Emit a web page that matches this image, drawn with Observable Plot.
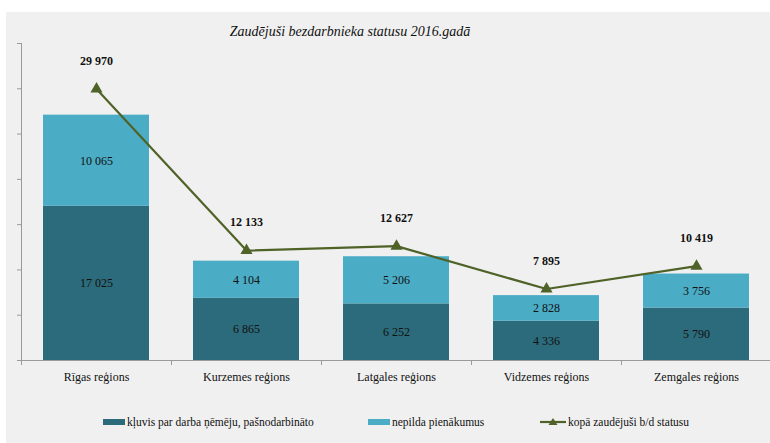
<!DOCTYPE html>
<html>
<head>
<meta charset="utf-8">
<script src="https://cdn.jsdelivr.net/npm/d3@7"></script>
<script src="https://cdn.jsdelivr.net/npm/@observablehq/plot@0.6"></script>
<style>
  html, body { margin: 0; padding: 0; background: #ffffff; }
  #wrap { position: relative; width: 770px; height: 443px; overflow: hidden; }
  #panel { position: absolute; left: 6px; top: 12px; width: 764px; height: 431px; background: #f0f0f0; }
  #title { position: absolute; left: 0; width: 700px; top: 24px; text-align: center; font-family: 'Liberation Serif', 'Times New Roman', 'DejaVu Serif', serif; font-style: italic; font-size: 14px; color: #111; }
  #chart { position: absolute; left: 0; top: 0; }
  #legend { position: absolute; left: 0; top: 416px; width: 770px; font-family: 'Liberation Serif', 'Times New Roman', 'DejaVu Serif', serif; font-size: 11.5px; color: #111; }
  .item { position: absolute; top: 0; display: flex; align-items: center; white-space: nowrap; }
  .sw { display: inline-block; width: 22px; height: 6px; margin-right: 2px; }
  svg.ln { margin-right: 2px; }
  #chart svg text { font-family: 'Liberation Serif', 'Times New Roman', 'DejaVu Serif', serif; }
</style>
</head>
<body>
<div id="wrap">
  <div id="panel"></div>
  <div id="title"></div>
  <div id="chart"></div>
  <div id="legend"></div>
</div>
<script>
const titleText = "Zaudējuši bezdarbnieka statusu 2016.gadā";
const regions = ["Rīgas reģions", "Kurzemes reģions", "Latgales reģions", "Vidzemes reģions", "Zemgales reģions"];
const seriesNames = ["kļuvis par darba ņēmēju, pašnodarbināto", "nepilda pienākumus", "kopā zaudējuši b/d statusu"];
const employed = [17025, 6865, 6252, 4336, 5790];
const notFulfilling = [10065, 4104, 5206, 2828, 3756];
const totals = [29970, 12133, 12627, 7895, 10419];
const yTicks = [0, 5000, 10000, 15000, 20000, 25000, 30000, 35000];

const colors = ["#2c6b7b", "#4bacc6", "#4f6228"];
const fmt = v => d3.format(",")(v).replace(/,/g, " ");

const stackData = [];
regions.forEach((r, i) => stackData.push({region: r, series: seriesNames[0], value: employed[i]}));
regions.forEach((r, i) => stackData.push({region: r, series: seriesNames[1], value: notFulfilling[i]}));
const lineData = regions.map((r, i) => ({region: r, value: totals[i]}));
const lastRegion = [regions[regions.length - 1]];

const step = 150;
const serif = "'Liberation Serif', 'Times New Roman', serif";

const chart = Plot.plot({
  width: 770,
  height: 443,
  marginLeft: 21,
  marginRight: -1,
  marginTop: 43,
  marginBottom: 83,
  style: {background: "transparent", fontFamily: serif, fontSize: "12px", color: "#111"},
  x: {domain: regions, paddingInner: 0.293, paddingOuter: 0.1465, label: null},
  y: {domain: [0, 35000], label: null},
  color: {domain: seriesNames.slice(0, 2), range: colors.slice(0, 2)},
  marks: [
    Plot.barY(stackData, {x: "region", y: "value", fill: "series"}),
    Plot.text(stackData, Plot.stackY({x: "region", y: "value", text: d => fmt(d.value), fill: "#111", fontSize: 12})),
    Plot.ruleY([0], {stroke: "#9a9a9a", strokeWidth: 1}),
    Plot.ruleX(regions, {x: d => d, y1: 0, y2: 0, insetBottom: -5, dx: -step / 2, stroke: "#9a9a9a"}),
    Plot.ruleX(lastRegion, {x: d => d, y1: 0, y2: 0, insetBottom: -5, dx: step / 2, stroke: "#9a9a9a"}),
    Plot.frame({anchor: "left", stroke: "#9a9a9a"}),
    Plot.axisY({ticks: yTicks, tickSize: 4, tickFormat: () => "", stroke: "#9a9a9a", label: null}),
    Plot.axisX({tickSize: 0, tickPadding: 12, fontSize: 12, label: null, fill: "#111"}),
    Plot.line(lineData, {x: "region", y: "value", stroke: colors[2], strokeWidth: 2.2}),
    Plot.dot(lineData, {x: "region", y: "value", symbol: "triangle", fill: colors[2], r: 4.5}),
    Plot.text(lineData, {x: "region", y: "value", text: d => fmt(d.value), dy: -28, fontWeight: "bold", fontSize: 12, fill: "#111"})
  ]
});
document.getElementById("chart").appendChild(chart);
document.getElementById("title").textContent = titleText;

const legend = document.getElementById("legend");
const legendX = [103, 368, 540];
seriesNames.forEach((name, i) => {
  const item = document.createElement("div");
  item.className = "item";
  item.style.left = legendX[i] + "px";
  if (i < 2) {
    const sw = document.createElement("span");
    sw.className = "sw";
    sw.style.background = colors[i];
    item.appendChild(sw);
  } else {
    const ns = "http://www.w3.org/2000/svg";
    const s = document.createElementNS(ns, "svg");
    s.setAttribute("width", 26); s.setAttribute("height", 10); s.setAttribute("class", "ln");
    const l = document.createElementNS(ns, "line");
    l.setAttribute("x1", 0); l.setAttribute("x2", 26); l.setAttribute("y1", 5); l.setAttribute("y2", 5);
    l.setAttribute("stroke", colors[2]); l.setAttribute("stroke-width", 2.2);
    const t = document.createElementNS(ns, "path");
    t.setAttribute("d", "M13,1 L17.5,8 L8.5,8 Z"); t.setAttribute("fill", colors[2]);
    s.appendChild(l); s.appendChild(t);
    item.appendChild(s);
  }
  const tx = document.createElement("span");
  tx.textContent = name;
  item.appendChild(tx);
  legend.appendChild(item);
});
</script>
</body>
</html>
